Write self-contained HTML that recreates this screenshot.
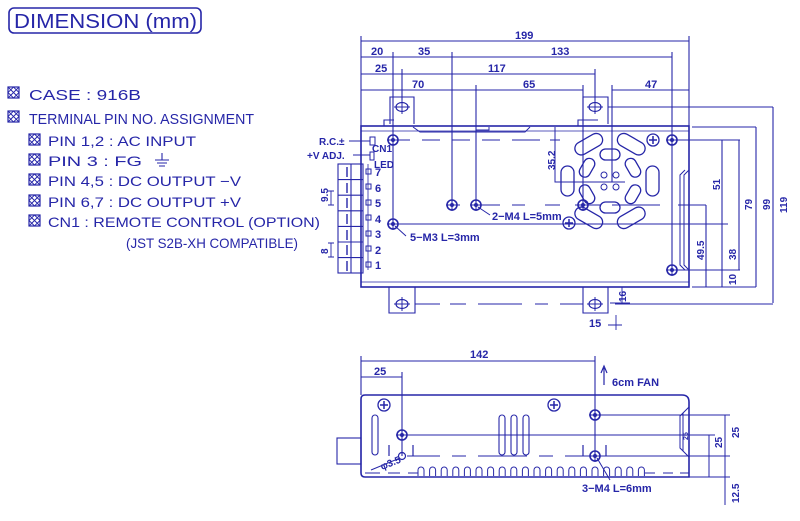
<!DOCTYPE html>
<html><head><meta charset="utf-8"><style>
html,body{margin:0;padding:0;background:#fff;}
svg{display:block;}
text{font-family:"Liberation Sans",sans-serif;fill:#2626a8;}
</style></head><body>
<svg width="800" height="521" viewBox="0 0 800 521" xmlns="http://www.w3.org/2000/svg">
<defs>
<g id="ck"><rect x="0" y="0" width="11" height="11" fill="none" stroke="#2626a8" stroke-width="1.2"/><path d="M0 0L11 11M11 0L0 11M5.5 0L11 5.5L5.5 11L0 5.5Z" stroke="#2626a8" stroke-width="0.9" fill="none"/></g>
<g id="hole"><circle r="5" fill="none" stroke="#2626a8" stroke-width="1.6"/><circle r="2" fill="#2626a8"/><path d="M-6 0H6M0 -6V6" stroke="#2626a8" stroke-width="1"/></g>
<g id="cross"><circle r="6" fill="none" stroke="#2626a8" stroke-width="1.3"/><path d="M-4 0H4M0 -4V4" stroke="#2626a8" stroke-width="1.5"/></g>
<g id="tabh"><ellipse rx="6" ry="4.5" fill="none" stroke="#2626a8" stroke-width="1.2"/><path d="M-8 0H8M0 -7V7" stroke="#2626a8" stroke-width="1"/></g>
<path id="vl" d="M0 9V3a3 3 0 0 1 6 0v6" fill="none" stroke="#2626a8" stroke-width="1"/>
</defs>
<!-- title -->
<rect x="9" y="8" width="192" height="25" rx="5" fill="none" stroke="#2626a8" stroke-width="1.6"/>
<text x="14" y="28" font-size="20" textLength="183" lengthAdjust="spacingAndGlyphs">DIMENSION (mm)</text>
<g font-size="15">
<use href="#ck" x="8" y="87"/><text x="29" y="100" textLength="112" lengthAdjust="spacingAndGlyphs">CASE : 916B</text>
<use href="#ck" x="8" y="111"/><text x="29" y="124" textLength="225" lengthAdjust="spacingAndGlyphs">TERMINAL PIN NO. ASSIGNMENT</text>
<g font-size="14">
<use href="#ck" x="29" y="134"/><text x="48" y="146" textLength="148" lengthAdjust="spacingAndGlyphs">PIN 1,2 : AC INPUT</text>
<use href="#ck" x="29" y="154"/><text x="48" y="166" textLength="94" lengthAdjust="spacingAndGlyphs">PIN  3  : FG</text>
<path d="M162 153V160M155 160H169M157 163H167M159 166H165" stroke="#2626a8" stroke-width="1.1" fill="none"/>
<use href="#ck" x="29" y="174"/><text x="48" y="186" textLength="193" lengthAdjust="spacingAndGlyphs">PIN 4,5 : DC OUTPUT −V</text>
<use href="#ck" x="29" y="195"/><text x="48" y="207" textLength="193" lengthAdjust="spacingAndGlyphs">PIN 6,7 : DC OUTPUT +V</text>
<use href="#ck" x="29" y="215"/><text x="48" y="227" textLength="272" lengthAdjust="spacingAndGlyphs">CN1      : REMOTE CONTROL (OPTION)</text>
<text x="126" y="248" textLength="172" lengthAdjust="spacingAndGlyphs">(JST S2B-XH COMPATIBLE)</text>
</g></g>

<g stroke="#2626a8" fill="none" stroke-width="1.1">
<rect x="361" y="126" width="328" height="161" stroke-width="1.6"/>
<path d="M361 131H689M361 282H689" stroke-width="0.8"/>
<path d="M390 124V97H414V124M583 124V97H608V124"/>
<path d="M384 126V120H394M578 126V120H598"/>
<path d="M389 287V313H415V287M583 287V313H608V287"/>
<use href="#tabh" x="402" y="107"/><use href="#tabh" x="595" y="107"/>
<use href="#tabh" x="402" y="304"/><use href="#tabh" x="595" y="304"/>
<path d="M415 304H440M450 304H466M478 304H522M535 304H548M560 304H583" stroke-width="1"/>
<path d="M413 127L420 132H480L525 132L530 127M476 127V130H489V127" stroke-width="1"/>
<path d="M685 170L680 175V265L685 270M689 170L684 175V265L689 270" stroke-width="1"/>
<rect x="338" y="164" width="25" height="109"/>
<path d="M338 179.6H363M338 195.2H363M338 210.8H363M338 226.4H363M338 242H363M338 257.6H363" />
<path d="M351 164V273"/>
<path d="M347 167v10M347 183v10M347 198v10M347 214v10M347 230v10M347 245v10M347 261v10" stroke-width="1.4"/>
<path d="M363 164V270M368 164V270" stroke-width="0.8"/>
<path d="M366 169h5v5h-5zM366 184h5v5h-5zM366 200h5v5h-5zM366 215h5v5h-5zM366 231h5v5h-5zM366 246h5v5h-5zM366 262h5v5h-5z" stroke-width="1"/>
<rect x="370" y="137" width="5" height="8" stroke-width="1"/><rect x="370" y="152" width="4" height="8" stroke-width="1"/>
<path d="M349 141H370M353 155H370" stroke-width="1"/>
<path d="M331 191V205M331 243V257M334 191H328M334 205H328M334 243H328M334 257H328" stroke-width="0.9"/>
<path d="M361 41H689M361 57H452M452 57H672M361 74H402M402 74H595M361 90H476M476 90H583M612 90H689" />
<path d="M361 36V126M689 36V126M393 52V224M452 52V205M672 52V270M402 69V100M595 69V100M476 85V205M583 85V205M612 85V182"/>
<path d="M393 140H410M422 140H440M452 140H470M482 140H500M512 140H540M550 140H560" stroke-width="1"/>
<path d="M393 224H725M452 205H460M476 205H500M512 205H525M545 205H560M575 205H600M612 205H660M678 205H706M672 140H740M672 270H740M608 107H773M615 304H773M692 127H756M692 287H756" stroke-width="1"/>
<path d="M555 127V182H625" stroke-width="1"/>
<path d="M478 207L490 215M395 226L406 236" stroke-width="1"/>
<path d="M706 205V287M722 140V287M739 140V270M756 127V287M773 107V303"/>
<path d="M716 224H728M716 270H728M616 315V330M608 325H622M622 287V303M610 303H630" stroke-width="0.9"/>
</g>
<use href="#hole" x="393" y="140"/><use href="#hole" x="393" y="224"/>
<use href="#hole" x="452" y="205"/><use href="#hole" x="476" y="205"/><use href="#hole" x="583" y="205"/>
<use href="#hole" x="672" y="140"/><use href="#hole" x="672" y="270"/>
<use href="#cross" x="653" y="140"/><use href="#cross" x="569" y="223"/>
<!-- fan -->
<g stroke="#2626a8" fill="none" stroke-width="1.3" transform="translate(610,181)">
<rect x="-15" y="-49" width="30" height="13" rx="6.5" transform="rotate(30)"/>
<rect x="-15" y="-49" width="30" height="13" rx="6.5" transform="rotate(90)"/>
<rect x="-15" y="-49" width="30" height="13" rx="6.5" transform="rotate(150)"/>
<rect x="-15" y="-49" width="30" height="13" rx="6.5" transform="rotate(210)"/>
<rect x="-15" y="-49" width="30" height="13" rx="6.5" transform="rotate(270)"/>
<rect x="-15" y="-49" width="30" height="13" rx="6.5" transform="rotate(330)"/>
<rect x="-10" y="-32" width="20" height="11" rx="5.5" transform="rotate(0)"/>
<rect x="-10" y="-32" width="20" height="11" rx="5.5" transform="rotate(60)"/>
<rect x="-10" y="-32" width="20" height="11" rx="5.5" transform="rotate(120)"/>
<rect x="-10" y="-32" width="20" height="11" rx="5.5" transform="rotate(180)"/>
<rect x="-10" y="-32" width="20" height="11" rx="5.5" transform="rotate(240)"/>
<rect x="-10" y="-32" width="20" height="11" rx="5.5" transform="rotate(300)"/>
<circle cx="-6" cy="-6" r="3" stroke-width="1"/><circle cx="6" cy="-6" r="3" stroke-width="1"/>
<circle cx="-6" cy="6" r="3" stroke-width="1"/><circle cx="6" cy="6" r="3" stroke-width="1"/>
</g>
<g font-size="11" font-weight="bold">
<text x="515" y="39">199</text>
<text x="371" y="55">20</text><text x="418" y="55">35</text><text x="551" y="55">133</text>
<text x="375" y="72">25</text><text x="488" y="72">117</text>
<text x="412" y="88">70</text><text x="523" y="88">65</text><text x="645" y="88">47</text>
<text x="492" y="220">2−M4  L=5mm</text>
<text x="410" y="241">5−M3  L=3mm</text>
<text x="589" y="327">15</text>
<text x="375" y="176">7</text><text x="375" y="192">6</text><text x="375" y="207">5</text><text x="375" y="223">4</text><text x="375" y="238">3</text><text x="375" y="254">2</text><text x="375" y="269">1</text>
<text x="372" y="152" font-size="10">CN1</text><text x="374" y="168" font-size="10">LED</text>
<text x="319" y="145" font-size="10">R.C.±</text><text x="307" y="159" font-size="10">+V ADJ.</text>
<g font-size="10">
<text transform="translate(555,170) rotate(-90)">35.2</text>
<text transform="translate(720,190) rotate(-90)">51</text>
<text transform="translate(736,260) rotate(-90)">38</text>
<text transform="translate(736,285) rotate(-90)">10</text>
<text transform="translate(704,260) rotate(-90)">49.5</text>
<text transform="translate(752,210) rotate(-90)">79</text>
<text transform="translate(770,210) rotate(-90)">99</text>
<text transform="translate(787,213) rotate(-90)">119</text>
<text transform="translate(626,302) rotate(-90)">16</text>
<text transform="translate(328,202) rotate(-90)">9.5</text>
<text transform="translate(328,254) rotate(-90)">8</text>
</g></g>

<!-- BOTTOM VIEW -->
<g stroke="#2626a8" fill="none" stroke-width="1.1">
<path d="M365 395H682Q689 395 689 402V477H365Q361 477 361 473V399Q361 395 365 395Z" stroke-width="1.6"/>
<rect x="337" y="438" width="24" height="26"/>
<path d="M361 361H595M361 377H402M361 356V395M402 372V456M595 356V456"/>
<path d="M402 435H715M595 415H730M595 456H730M689 477H730M725 415V505M709 435V477" stroke-width="1"/>
<path d="M604 385V368M601 373L604 366L607 373" stroke-width="1.2"/>
<rect x="372" y="415" width="6" height="40" rx="3"/>
<rect x="499" y="415" width="6" height="40" rx="3"/><rect x="511" y="415" width="6" height="40" rx="3"/><rect x="523" y="415" width="6" height="40" rx="3"/>
<path d="M389 445v11M413 445v11M583 445v11M606 445v11" stroke-width="1.2"/>
<path d="M407 456H440M452 456H466M478 456H527M539 456H553M565 456H590" stroke-width="1"/>
<path d="M365 473H380M388 473H400M408 473H418M645 473H655M663 473H673M680 473H689" stroke-width="1"/>
<path d="M689 407L683 413V451L689 457M686 410L680 416V448L686 454" stroke-width="1"/>
<path d="M371 470L400 458M597 458L610 480" stroke-width="1"/>
</g>
<g transform="translate(0,467)">
<use href="#vl" x="418"/><use href="#vl" x="429.6"/><use href="#vl" x="441.2"/><use href="#vl" x="452.8"/><use href="#vl" x="464.4"/>
<use href="#vl" x="476"/><use href="#vl" x="487.6"/><use href="#vl" x="499.2"/><use href="#vl" x="510.8"/><use href="#vl" x="522.4"/>
<use href="#vl" x="534"/><use href="#vl" x="545.6"/><use href="#vl" x="557.2"/><use href="#vl" x="568.8"/><use href="#vl" x="580.4"/>
<use href="#vl" x="592"/><use href="#vl" x="603.6"/><use href="#vl" x="615.2"/><use href="#vl" x="626.8"/><use href="#vl" x="638.4"/>
</g>
<circle cx="402" cy="456" r="3.5" fill="none" stroke="#2626a8" stroke-width="1.2"/>
<use href="#hole" x="402" y="435"/><use href="#hole" x="595" y="415"/><use href="#hole" x="595" y="456"/>
<use href="#cross" x="384" y="405"/><use href="#cross" x="554" y="405"/>
<g font-size="11" font-weight="bold">
<text x="470" y="358">142</text>
<text x="374" y="375">25</text>
<text x="612" y="386">6cm FAN</text>
<text x="582" y="492">3−M4  L=6mm</text>
<text transform="translate(382,470) rotate(-22)" font-size="10">φ3.5</text>
<g font-size="10">
<text transform="translate(722,448) rotate(-90)">25</text>
<text transform="translate(739,438) rotate(-90)">25</text>
<text transform="translate(739,503) rotate(-90)">12.5</text>
<text transform="translate(688,440) rotate(-90)" font-size="7">25</text>
</g></g>
</svg>
</body></html>
